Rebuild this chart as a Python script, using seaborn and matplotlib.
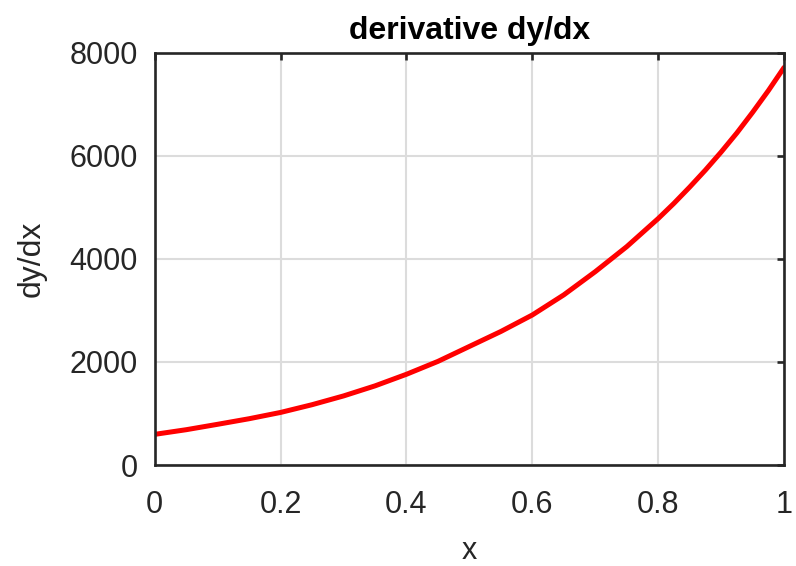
import numpy as np
import pandas as pd
import matplotlib
matplotlib.use("Agg")
import matplotlib.pyplot as plt
import seaborn as sns

# values
x_vals = [0.0, 0.05, 0.1, 0.15, 0.2, 0.25, 0.3, 0.35, 0.4, 0.45, 0.5,
          0.55, 0.6, 0.65, 0.7, 0.75, 0.8, 0.825, 0.85, 0.875, 0.9,
          0.925, 0.95, 0.975, 1.0]
dydx_vals = [595, 685, 790, 898, 1020, 1170, 1340, 1535, 1760, 2010, 2300,
             2590, 2910, 3300, 3750, 4235, 4780, 5075, 5390, 5720, 6070,
             6440, 6840, 7260, 7710]

x_ticks = [0, 0.2, 0.4, 0.6, 0.8, 1]
x_ticklabels = ["0", "0.2", "0.4", "0.6", "0.8", "1"]
y_ticks = [0, 2000, 4000, 6000, 8000]

sns.set_style("white")
plt.rcParams['font.family'] = ['Liberation Sans', 'DejaVu Sans']

df = pd.DataFrame({"x": x_vals, "dydx": dydx_vals})

fig = plt.figure(figsize=(7.96, 5.66), dpi=100)
ax = fig.add_axes([0.1944, 0.1784, 0.7906, 0.7288])

sns.lineplot(data=df, x="x", y="dydx", ax=ax, color="#ff0000", linewidth=3.6)

ax.set_xlim(0, 1)
ax.set_ylim(0, 8000)
ax.set_xticks(x_ticks)
ax.set_xticklabels(x_ticklabels)
ax.set_yticks(y_ticks)

ax.grid(True, color="#dcdcdc", linewidth=1.5)
ax.set_axisbelow(True)
for s in ax.spines.values():
    s.set_color("#262626")
    s.set_linewidth(1.9)

ax.tick_params(axis="both", direction="in", length=5, width=1.9, color="#262626",
               labelsize=22, labelcolor="#262626", top=True, right=True)
ax.tick_params(axis="x", pad=18)
ax.tick_params(axis="y", pad=12)

ax.set_xlabel("x", fontsize=22, color="#262626")
ax.set_ylabel("dy/dx", fontsize=23, color="#262626")
ax.xaxis.set_label_coords(0.5, -0.2276)
ax.xaxis.label.set_va("baseline")
ax.yaxis.set_label_coords(-0.172, 0.5)
ax.set_title("derivative dy/dx", fontsize=23, fontweight="bold", color="black", pad=10)

fig.savefig("out.png", dpi=100)
